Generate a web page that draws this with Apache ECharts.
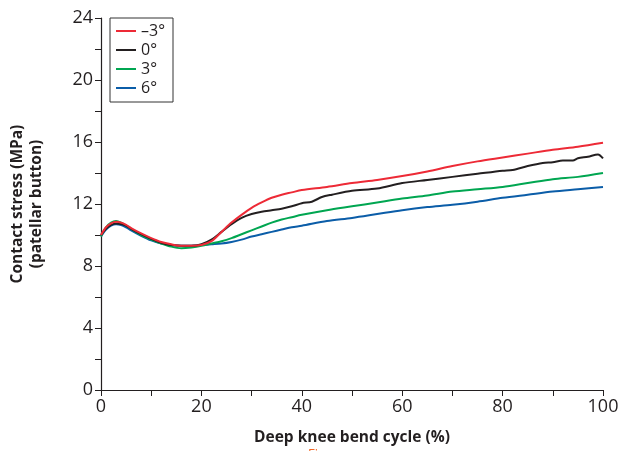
<!DOCTYPE html>
<html>
<head>
<meta charset="utf-8">
<script src="https://cdn.jsdelivr.net/npm/echarts@6/dist/echarts.min.js"></script>
<style>
html,body{margin:0;padding:0;background:#fff;}
#chart{width:633px;height:451px;}
</style>
</head>
<body>
<div id="chart"></div>
<script>
const seriesNames = ['\u20133\u00b0', '0\u00b0', '3\u00b0', '6\u00b0'];
const seriesColors = ['#ed2a36', '#231f20', '#00a651', '#0b5da8'];

const xRed = [0,1,2,3,4,5,6,8,10,12,14,16,18,20,22,24,26,28,30,32,34,36,38,40,45,50,55,60,65,70,75,80,85,90,95,100];
const yRed = [10.0,10.5,10.75,10.85,10.8,10.65,10.45,10.1,9.8,9.55,9.4,9.3,9.3,9.35,9.6,10.2,10.8,11.3,11.75,12.1,12.4,12.6,12.75,12.9,13.1,13.35,13.55,13.8,14.1,14.45,14.75,15.0,15.25,15.5,15.7,15.95];

const xBlack = [0,1,2,3,4,5,6,8,10,12,14,16,18,20,22,24,26,28,30,32,34,36,38,40,42,44,46,50,55,60,65,70,75,80,82,85,88,90,92,94,95,97,99,100];
const yBlack = [10.0,10.4,10.65,10.75,10.7,10.6,10.4,10.05,9.75,9.5,9.35,9.3,9.3,9.4,9.7,10.2,10.7,11.1,11.35,11.5,11.6,11.7,11.85,12.05,12.15,12.45,12.6,12.85,13.0,13.35,13.55,13.75,13.95,14.15,14.2,14.45,14.65,14.7,14.8,14.8,14.95,15.05,15.2,14.95];

const xGreen = [0,1,2,3,4,5,6,8,10,12,14,16,18,20,22,24,26,28,30,32,34,36,38,40,45,50,55,60,65,70,75,80,85,90,95,100];
const yGreen = [9.9,10.5,10.8,10.9,10.8,10.6,10.4,10.0,9.7,9.45,9.25,9.15,9.2,9.3,9.45,9.6,9.8,10.05,10.3,10.55,10.8,11.0,11.15,11.3,11.6,11.85,12.1,12.35,12.55,12.8,12.95,13.1,13.35,13.6,13.75,14.0];

const xBlue = [0,1,2,3,4,5,6,8,10,12,14,16,18,20,22,24,26,28,30,32,34,36,38,40,45,50,55,60,65,70,75,80,85,90,95,100];
const yBlue = [9.9,10.35,10.6,10.7,10.65,10.5,10.3,9.95,9.65,9.45,9.35,9.3,9.3,9.35,9.4,9.45,9.55,9.7,9.9,10.05,10.2,10.35,10.5,10.6,10.9,11.1,11.35,11.6,11.8,11.95,12.15,12.4,12.6,12.8,12.95,13.1];

const xTicks = [0,20,40,60,80,100];
const yTicks = [0,4,8,12,16,20,24];

const xs = [xRed, xBlack, xGreen, xBlue];
const ys = [yRed, yBlack, yGreen, yBlue];

const font = '"Open Sans", "Noto Sans", sans-serif';
const chart = echarts.init(document.getElementById('chart'));
chart.setOption({
  animation: false,
  backgroundColor: '#fff',
  textStyle: { fontFamily: font },
  grid: { left: 99, right: 30, top: 18, bottom: 61, containLabel: false },
  legend: {
    orient: 'vertical',
    left: 110, top: 18,
    padding: [5, 8, 6, 6],
    borderColor: '#333', borderWidth: 1,
    itemWidth: 20, itemHeight: 2, itemGap: 3,
    icon: 'rect',
    textStyle: { fontSize: 16, color: '#231f20', fontFamily: font, padding: [0,0,0,0] },
    data: seriesNames
  },
  xAxis: {
    type: 'value', min: 0, max: 100, interval: 10,
    name: 'Deep knee bend cycle (%)', nameLocation: 'middle', nameGap: 40,
    nameTextStyle: { fontSize: 15.5, fontWeight: 'bold', color: '#231f20', fontFamily: font },
    axisLine: { show: true, lineStyle: { color: '#231f20', width: 1.2 } },
    axisTick: { show: true, length: 6, lineStyle: { color: '#231f20' } },
    axisLabel: { fontSize: 18, color: '#231f20', margin: 8, fontFamily: font,
      formatter: v => xTicks.indexOf(v) >= 0 ? String(v) : '' },
    splitLine: { show: false }
  },
  yAxis: {
    type: 'value', min: 0, max: 24, interval: 2,
    name: 'Contact stress (MPa)\n(patellar button)', nameLocation: 'middle', nameGap: 55,
    nameTextStyle: { fontSize: 15.5, fontWeight: 'bold', color: '#231f20', fontFamily: font, lineHeight: 19 },
    axisLine: { show: true, lineStyle: { color: '#231f20', width: 1.2 } },
    axisTick: { show: true, length: 6, lineStyle: { color: '#231f20' } },
    axisLabel: { fontSize: 18, color: '#231f20', margin: 8, fontFamily: font,
      formatter: v => yTicks.indexOf(v) >= 0 ? String(v) : '' },
    splitLine: { show: false }
  },
  series: seriesNames.map((n, i) => ({
    name: n, type: 'line', smooth: 0.3, showSymbol: false, symbol: 'none',
    color: seriesColors[i],
    lineStyle: { width: 2, color: seriesColors[i] },
    z: 10 - i,
    data: xs[i].map((x, j) => [x, ys[i][j]])
  })).reverse(),
  graphic: [
    { type: 'text', left: 340, top: -15, style: { text: 'g', fill: '#f26522', fontSize: 14, fontFamily: font } },
    { type: 'text', left: 308, top: 448, style: { text: 'Figure', fill: '#f26522', fontSize: 13, fontFamily: font } }
  ]
});
</script>
</body>
</html>
